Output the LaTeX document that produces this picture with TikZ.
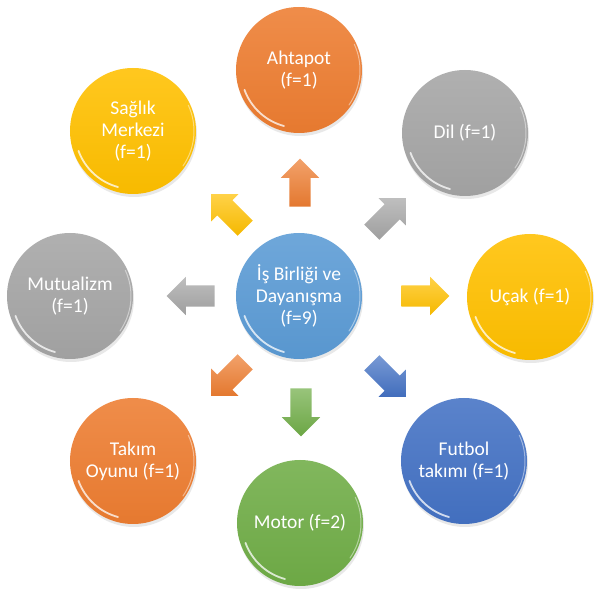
\documentclass[tikz,border=0pt]{standalone}
\usepackage{fontspec}
\newfontfamily\carlito{Carlito}
\usetikzlibrary{shapes.arrows,shadows,calc}
\definecolor{myorange}{HTML}{ED7D31}
\definecolor{mygray}{HTML}{A5A5A5}
\definecolor{mygold}{HTML}{FFC000}
\definecolor{mylblue}{HTML}{5B9BD5}
\definecolor{myblue}{HTML}{4472C4}
\definecolor{mygreen}{HTML}{70AD47}
\begin{document}
\begin{tikzpicture}[x=1pt,y=1pt,
  ball/.style={circle, minimum size=126pt, inner sep=0pt, align=center,
    text=white, font=\carlito\fontsize{19.5}{22}\selectfont,
    top color=#1!88!white, bottom color=#1!97!black, draw=none,
    drop shadow={opacity=0.18, shadow xshift=1pt, shadow yshift=-3pt}},
  barrow/.style={single arrow, draw=none, inner xsep=0pt, inner ysep=10.5pt,
    minimum height=48pt,
    single arrow head extend=8.5pt, single arrow head indent=0pt,
    top color=#1!72!white, bottom color=#1!96!black},
  shine/.style={white, opacity=0.75, line width=1.8pt, line cap=round},
  rim/.style={white, opacity=0.45, line width=1pt, line cap=round}]
\useasboundingbox (-299,-298) rectangle (296,296);

\node[ball=mylblue] (c) at (0,0) {İş Birliği ve\\Dayanışma\\(f=9)};
\node[ball=myorange] (n1) at (0,226) {Ahtapot\\(f=1)};
\node[ball=mygray] (n2) at (166,163) {Dil (f=1)};
\node[ball=mygold] (n3) at (231,-1) {Uçak (f=1)};
\node[ball=myblue] (n4) at (165,-165) {Futbol\\takımı (f=1)};
\node[ball=mygreen] (n5) at (1,-227) {Motor (f=2)};
\node[ball=myorange] (n6) at (-166,-165) {Takım\\Oyunu (f=1)};
\node[ball=mygray] (n7) at (-229,0) {Mutualizm\\(f=1)};
\node[ball=mygold] (n8) at (-166,165) {Sağlık\\Merkezi\\(f=1)};

\foreach \n in {c,n1,n2,n3,n4,n5,n6,n7,n8}{
  \draw[shine] ($(\n.center)+(200:58)$) arc[start angle=200, end angle=255, radius=58];
  \draw[rim] ($(\n.center)+(-35:61)$) arc[start angle=-35, end angle=25, radius=61];
}

\node[barrow=myorange, rotate=90] (a1) at (1,108) {};
\node[barrow=mygray, rotate=45] (a2) at (86,77) {};
\node[barrow=mygold, rotate=0] (a3) at (121,0) {};
\node[barrow=myblue, rotate=-45] (a4) at (86,-80) {};
\node[barrow=mygreen, rotate=-90] (a5) at (2,-111) {};
\node[barrow=myorange, rotate=-135] (a6) at (-67,-79) {};
\node[barrow=mygray, rotate=180] (a7) at (-103,0) {};
\node[barrow=mygold, rotate=135] (a8) at (-67,81) {};
\end{tikzpicture}
\end{document}
